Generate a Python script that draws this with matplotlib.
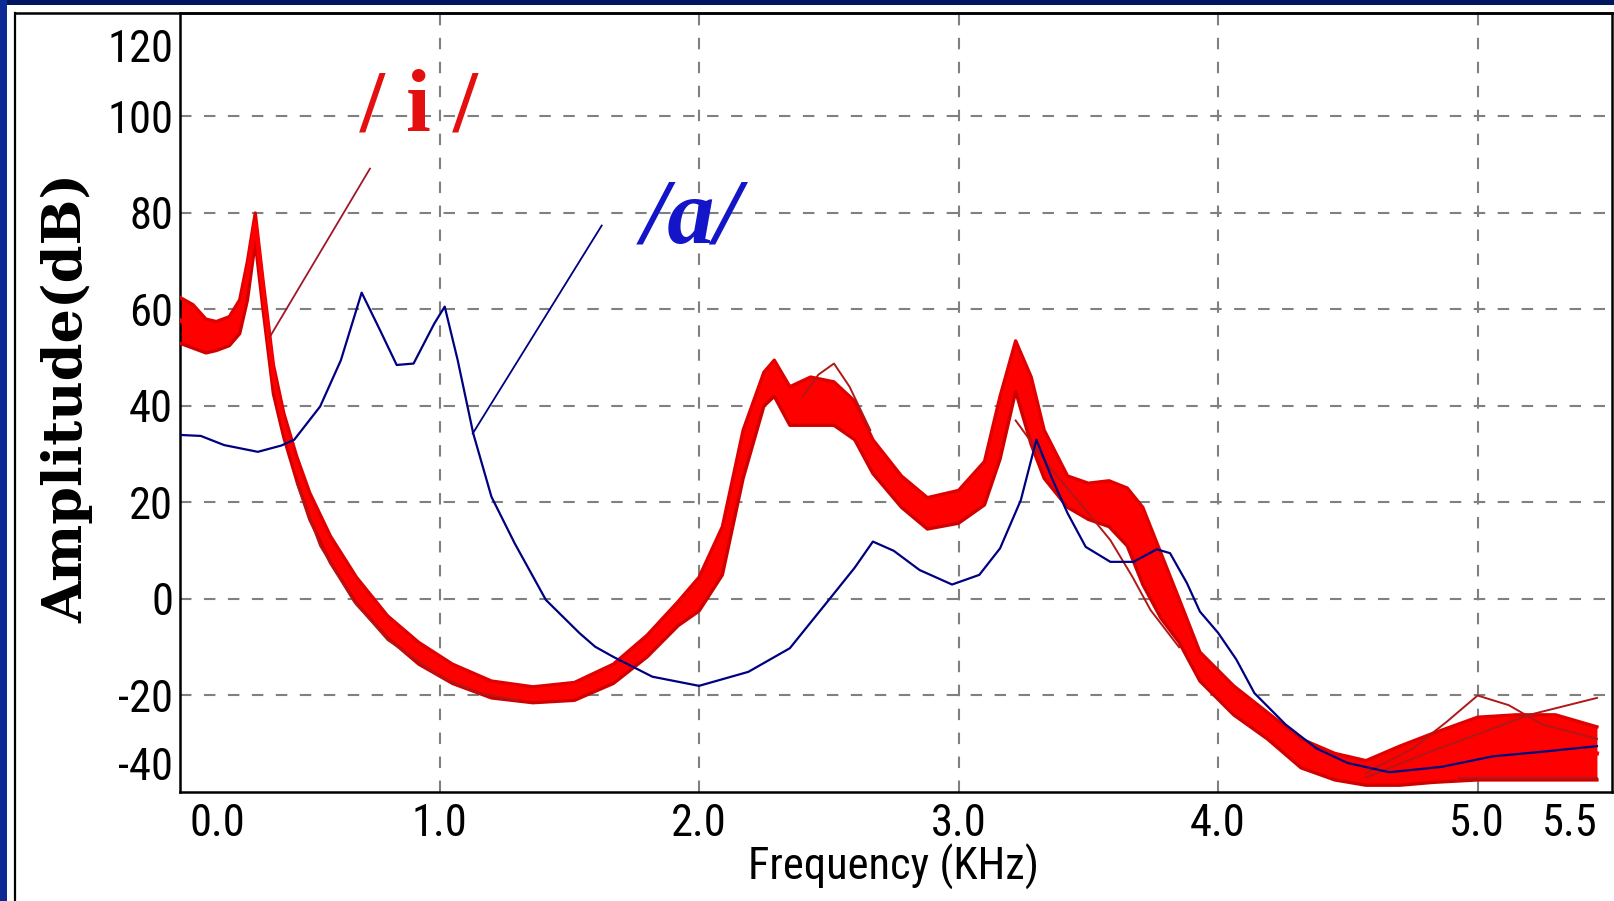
import matplotlib
matplotlib.use("Agg")
import matplotlib.pyplot as plt
from matplotlib import font_manager
from matplotlib.lines import Line2D
from matplotlib.patches import Rectangle

# ---------------- data ----------------
red_freq = [0.0, 0.05, 0.10, 0.14, 0.19, 0.23, 0.26, 0.29, 0.32, 0.36, 0.40, 0.45, 0.50,
            0.58, 0.68, 0.80, 0.92, 1.05, 1.20, 1.36, 1.52, 1.67, 1.80, 1.92, 2.00, 2.09,
            2.17, 2.25, 2.29, 2.35, 2.43, 2.52, 2.60, 2.67, 2.78, 2.88, 3.00, 3.10, 3.16,
            3.22, 3.28, 3.33, 3.42, 3.50, 3.58, 3.65, 3.71, 3.78, 3.85, 3.93, 4.06, 4.19,
            4.32, 4.45, 4.57, 4.70, 4.83, 5.00, 5.15, 5.30, 5.46]
red_center = [57.8, 56, 54.5, 54, 55.5, 58.5, 67, 78, 64, 46, 36, 27, 19.5,
              10.5, 2, -5.7, -11.2, -15.3, -18.6, -19.9, -19.2, -15.4, -9.5, -3, 1, 10,
              30, 43, 46, 40, 40.5, 40, 36.5, 29.5, 22, 17.7, 19, 24, 35,
              49, 39, 30, 22, 20, 19.5, 17.5, 12, 3, -4, -14, -21, -26.5,
              -32, -34.8, -36, -35, -33, -31, -30.5, -30.5, -32]
red_upper = [62.5, 61, 58, 57.5, 58.5, 62, 70, 80, 66, 48.5, 38.5, 29.5, 22,
             13, 4.5, -3.5, -9, -13.5, -17, -18.2, -17.3, -13.5, -7.5, -0.5, 4.5, 15,
             35, 47, 49.5, 44, 46, 45, 41, 33, 25.5, 21, 22.5, 28.5, 42,
             53.5, 46, 35, 25.5, 24, 24.5, 23, 19, 9.5, 0, -11, -18, -23.5,
             -29, -32, -33.5, -30.5, -27.8, -24.5, -24, -24, -26.5]
red_lower = [53, 52, 51, 51.5, 52.5, 55, 62, 74, 60, 42.5, 33.5, 24.5, 16.5,
             7.5, -1, -8, -13.5, -17.5, -20.5, -21.5, -21, -17.5, -12, -5.5, -2.5, 5,
             25, 40, 42, 36, 36, 36, 33, 26, 19, 14.5, 15.7, 19.5, 29,
             43, 32, 25, 19, 16.5, 15, 11, 3, -4, -9, -17, -24, -29,
             -35, -37.5, -38.6, -38.6, -38, -37.5, -37.5, -37.5, -37.5]

# individual outlying /i/ curves
out1_freq = [4.57, 4.75, 4.88, 5.00, 5.12, 5.25, 5.46]
out1_db = [-36, -31, -25.5, -20, -22, -26, -29]
out2_freq = [4.57, 4.80, 5.00, 5.20, 5.46]
out2_db = [-37, -32, -28, -24, -20.5]
out3_freq = [2.40, 2.46, 2.52, 2.58, 2.66]
out3_db = [42, 46.5, 48.8, 44, 35]
out4_freq = [0.45, 0.54, 0.67, 0.80, 0.90, 1.00, 1.15, 1.30]
out4_db = [24, 11, -0.5, -8.5, -12.2, -16, -19.5, -21]
out5_freq = [3.22, 3.35, 3.48, 3.585, 3.67, 3.74, 3.85]
out5_db = [37, 27.4, 19.1, 12.2, 4.6, -2.3, -10]
out6_freq = [4.93, 5.46]
out6_db = [-37.2, -37.2]

# /a/ curve
blue_freq = [0.0, 0.08, 0.17, 0.30, 0.39, 0.44, 0.54, 0.62, 0.70, 0.77, 0.835, 0.90, 0.98,
             1.02, 1.07, 1.13, 1.20, 1.29, 1.41, 1.54, 1.60, 1.67, 1.82, 2.00, 2.19, 2.35,
             2.50, 2.60, 2.67, 2.75, 2.85, 2.975, 3.08, 3.16, 3.24, 3.30, 3.36, 3.42, 3.49,
             3.585, 3.674, 3.764, 3.815, 3.88, 3.93, 4.00, 4.07, 4.14, 4.26, 4.38, 4.50,
             4.66, 4.86, 5.06, 5.26, 5.46]
blue_db = [34.0, 33.8, 31.9, 30.5, 31.8, 33, 39.9, 49.5, 63.5, 55.8, 48.5, 48.8, 57.1,
           60.6, 49.5, 34.3, 21.2, 11.5, -0.2, -7.1, -9.9, -12, -16.1, -18, -15.1, -10.2,
           -0.2, 6.5, 11.9, 10, 6, 3.0, 5, 10.5, 20.5, 33, 25, 17.8, 10.8,
           7.7, 7.7, 10.3, 9.5, 3.3, -2.6, -7, -12.5, -19.5, -26, -31, -34,
           -35.9, -34.8, -32.6, -31.6, -30.5]

# leader lines to labels
i_leader_freq = [0.347, 0.732]
i_leader_db = [54.4, 89.2]
a_leader_freq = [1.128, 1.625]
a_leader_db = [34.3, 77.4]

ytick_pos = [-34.1, -20, 0, 20, 40, 60, 80, 100, 114.8]
ytick_labels = ["-40", "-20", "0", "20", "40", "60", "80", "100", "120"]
xtick_pos = [0.143, 1.0, 2.0, 3.0, 4.0, 4.997, 5.357]
xtick_labels = ["0.0", "1.0", "2.0", "3.0", "4.0", "5.0", "5.5"]
ygrid = [-20, 0, 20, 40, 60, 80, 100]
xgrid = [1, 2, 3, 4, 5]

# ---------------- font choice (narrow sans if available) ----------------
names = {f.name for f in font_manager.fontManager.ttflist}
cond_dejavu = any(f.name == "DejaVu Sans" and str(f.stretch) in ("condensed", "semi-condensed")
                  for f in font_manager.fontManager.ttflist)
tick_kw = None
for cand in ["Liberation Sans Narrow", "Arial Narrow", "Roboto Condensed",
             "DejaVu Sans Condensed", "Open Sans Condensed"]:
    if cand in names:
        tick_kw = dict(family=[cand, "DejaVu Sans"], fontsize=32)
        xl_kw = dict(family=[cand, "DejaVu Sans"], fontsize=32)
        break
if tick_kw is None and cond_dejavu:
    tick_kw = dict(family=["DejaVu Sans"], fontstretch="condensed", fontsize=27)
    xl_kw = dict(family=["DejaVu Sans"], fontstretch="condensed", fontsize=27)
if tick_kw is None:
    tick_kw = dict(family=["Liberation Sans", "DejaVu Sans"], fontsize=30)
    xl_kw = dict(family=["Liberation Sans", "DejaVu Sans"], fontsize=29)

# ---------------- figure ----------------
W, H = 1614, 901
fig = plt.figure(figsize=(W / 100, H / 100), dpi=100, facecolor="white")

# navy frame
fig.patches.append(Rectangle((0, 1 - 5 / H), 1, 5 / H, transform=fig.transFigure,
                             facecolor="#001660", edgecolor="none", zorder=0))
fig.patches.append(Rectangle((0, 0), 7 / W, 1, transform=fig.transFigure,
                             facecolor="#0b2a94", edgecolor="none", zorder=0))
fig.lines.append(Line2D([15 / W, 15 / W], [0, 1 - 13 / H], transform=fig.transFigure,
                        color="black", lw=1.6))
fig.lines.append(Line2D([15 / W, 1], [1 - 13 / H, 1 - 13 / H], transform=fig.transFigure,
                        color="black", lw=1.8))

ax = fig.add_axes([180 / W, 1 - 792 / H, (1612 - 180) / W, (792 - 13) / H])
ax.set_xlim(0, 5.518)
ax.set_ylim(-40, 121.45)
ax.set_facecolor("white")

for g in ygrid:
    ax.axhline(g, color="#808080", lw=1.5, dashes=(5.5, 6), zorder=1)
for g in xgrid:
    ax.axvline(g, color="#808080", lw=1.5, dashes=(5.5, 6), zorder=1)

# /i/ band
ax.fill_between(red_freq, red_lower, red_upper, color="#ff0000", lw=0, zorder=2)
ax.plot(red_freq, red_upper, color="#e00000", lw=2.4, zorder=3)
ax.plot(red_freq, red_lower, color="#d00000", lw=2.4, zorder=3)
ax.plot(red_freq, red_center, color="#ff0000", lw=3.0, zorder=3)
for fx, fy in [(out1_freq, out1_db), (out2_freq, out2_db), (out3_freq, out3_db),
               (out4_freq, out4_db), (out5_freq, out5_db), (out6_freq, out6_db)]:
    ax.plot(fx, fy, color="#b01818", lw=1.4, zorder=3)

# /a/ curve
ax.plot(blue_freq, blue_db, color="#000080", lw=1.6, zorder=4)

# leaders
ax.plot(i_leader_freq, i_leader_db, color="#a01828", lw=1.3, zorder=4)
ax.plot(a_leader_freq, a_leader_db, color="#000080", lw=1.3, zorder=4)

ax.text(0.923, 101.5, "/ i /", color="#e41010", fontsize=64, fontweight="bold",
        family="Liberation Serif", ha="center", va="center", zorder=5)
ax.text(1.97, 78.5, "/a/", color="#1414c8", fontsize=68, fontweight="bold",
        fontstyle="italic", family="Liberation Serif", ha="center", va="center", zorder=5)

ax.set_yticks(ytick_pos)
ax.set_yticklabels(ytick_labels, **tick_kw)
ax.set_xticks(xtick_pos)
ax.set_xticklabels(xtick_labels, **tick_kw)
ax.tick_params(axis="both", length=0)
ax.tick_params(axis="y", pad=5)
ax.tick_params(axis="x", pad=8)

for s in ax.spines.values():
    s.set_color("black")
    s.set_linewidth(1.8)

fig.text(894 / W, 1 - 867 / H, "Frequency (KHz)", ha="center", va="center", **xl_kw)
fig.text(67 / W, 1 - 398 / H, "Amplitude(dB)", family="DejaVu Serif",
         fontweight="bold", fontsize=39, rotation=90, ha="center", va="center")

fig.savefig("out.png", dpi=100, facecolor="white")
